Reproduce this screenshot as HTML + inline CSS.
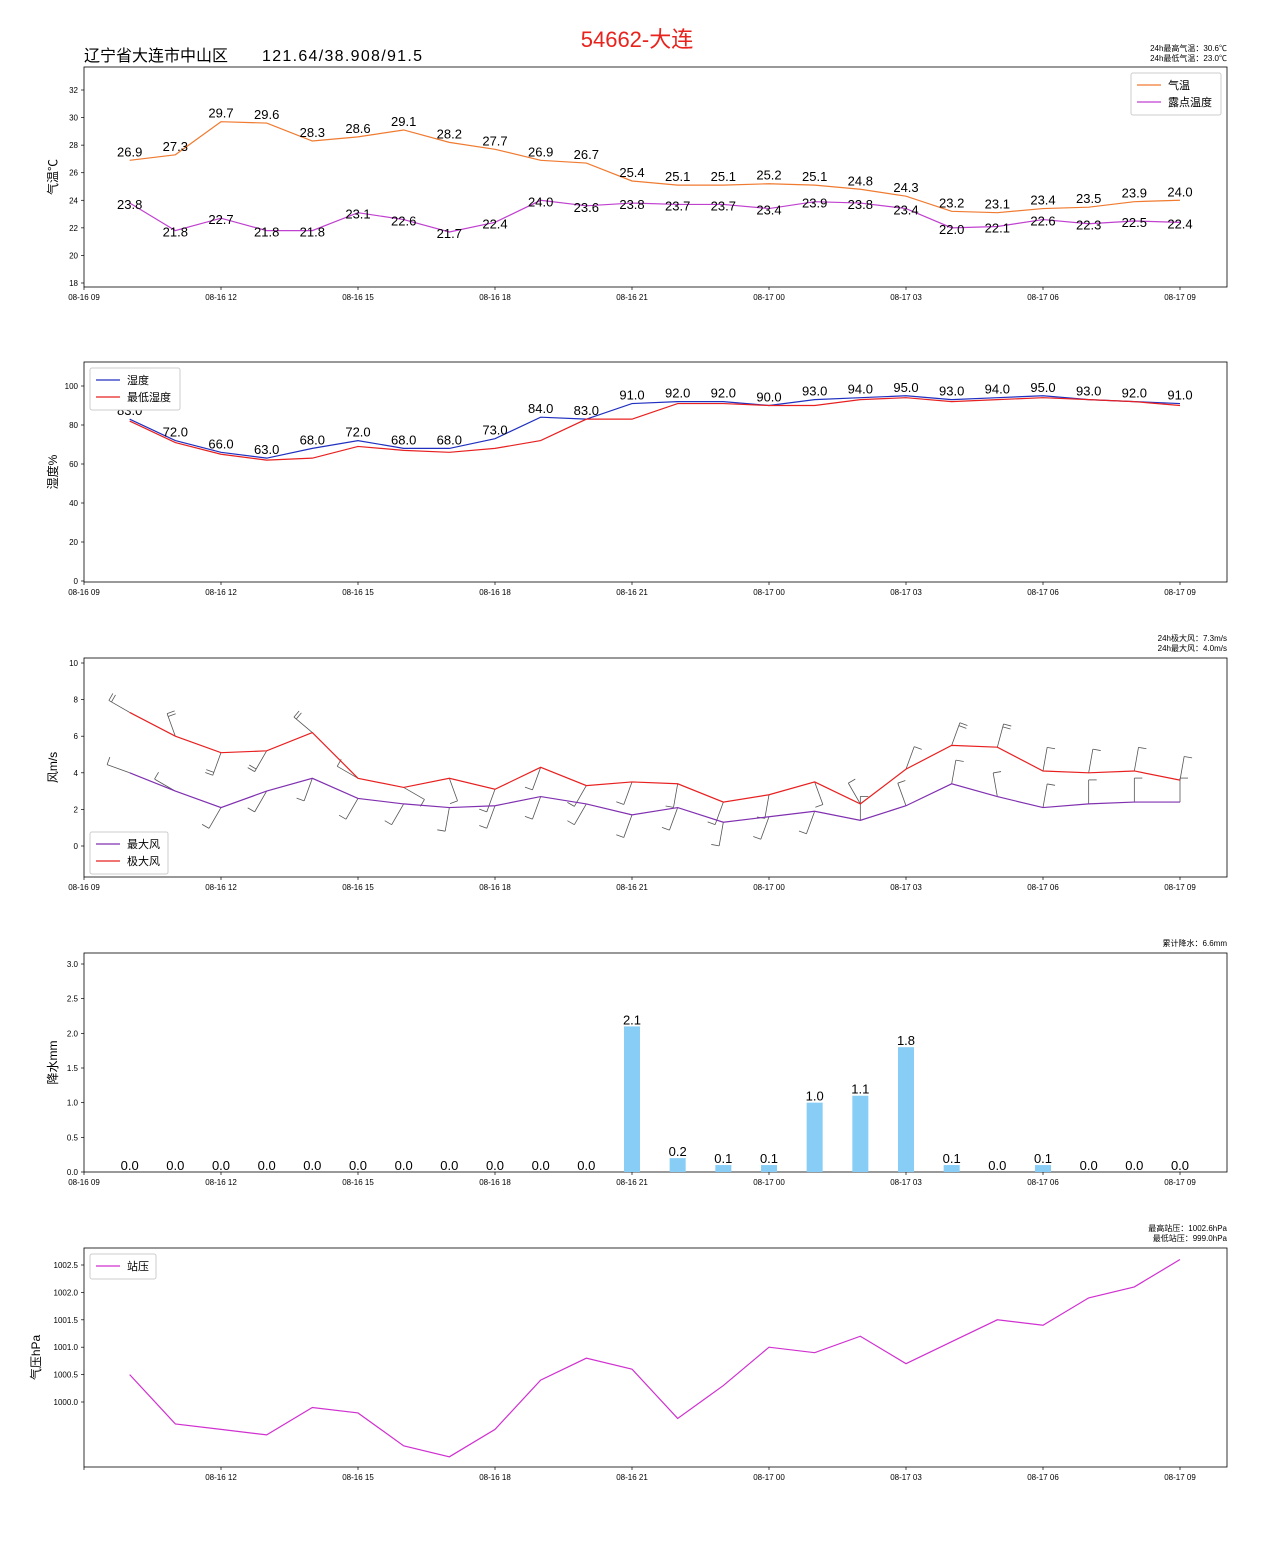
<!DOCTYPE html>
<html><head><meta charset="utf-8">
<style>
body{margin:0;background:#fff;}
svg text{font-family:"Liberation Sans","Noto Sans CJK SC",sans-serif;}
</style></head>
<body>
<svg id="chart" width="1275" height="1559" xmlns="http://www.w3.org/2000/svg">
<rect width="1275" height="1559" fill="#fff"/>
<text x="637" y="47" font-size="22" fill="#e8221c" text-anchor="middle">54662-大连</text>
<text x="84" y="61" font-size="16" fill="#000">辽宁省大连市中山区</text>
<text x="262" y="61" font-size="16" fill="#000" textLength="160">121.64/38.908/91.5</text>
</svg>
<script>
const hours=['10','11','12','13','14','15','16','17','18','19','20','21','22','23','00','01','02','03','04','05','06','07','08','09'];
const tickLabels=['08-16 09','08-16 12','08-16 15','08-16 18','08-16 21','08-17 00','08-17 03','08-17 06','08-17 09'];
const temp=[26.9,27.3,29.7,29.6,28.3,28.6,29.1,28.2,27.7,26.9,26.7,25.4,25.1,25.1,25.2,25.1,24.8,24.3,23.2,23.1,23.4,23.5,23.9,24.0];
const dew=[23.8,21.8,22.7,21.8,21.8,23.1,22.6,21.7,22.4,24.0,23.6,23.8,23.7,23.7,23.4,23.9,23.8,23.4,22.0,22.1,22.6,22.3,22.5,22.4];
const hum=[83,72,66,63,68,72,68,68,73,84,83,91,92,92,90,93,94,95,93,94,95,93,92,91];
const humMin=[82,71,65,62,63,69,67,66,68,72,83,83,91,91,90,90,93,94,92,93,94,93,92,90];
const gust=[7.3,6.0,5.1,5.2,6.2,3.7,3.2,3.7,3.1,4.3,3.3,3.5,3.4,2.4,2.8,3.5,2.3,4.2,5.5,5.4,4.1,4.0,4.1,3.6];
const wind=[4.0,3.0,2.1,3.0,3.7,2.6,2.3,2.1,2.2,2.7,2.3,1.7,2.1,1.3,1.6,1.9,1.4,2.2,3.4,2.7,2.1,2.3,2.4,2.4];
const gustDir=[300,340,200,210,310,300,120,160,200,200,210,200,190,200,190,160,330,20,20,15,10,10,10,10];
const windDir=[290,300,210,210,200,210,210,190,200,200,210,200,200,190,200,200,0,340,10,350,10,0,0,0];
const rain=[0,0,0,0,0,0,0,0,0,0,0,2.1,0.2,0.1,0.1,1.0,1.1,1.8,0.1,0.0,0.1,0.0,0.0,0.0];
const pres=[1000.5,999.6,999.5,999.4,999.9,999.8,999.2,999.0,999.5,1000.4,1000.8,1000.6,999.7,1000.3,1001.0,1000.9,1001.2,1000.7,1001.1,1001.5,1001.4,1001.9,1002.1,1002.6];

const svg=document.getElementById('chart');
const NS='http://www.w3.org/2000/svg';
function el(t,a,p){const e=document.createElementNS(NS,t);for(const k in a)e.setAttribute(k,a[k]);(p||svg).appendChild(e);return e;}
const X0=84,X1=1227,PX=137/3;
function xs(i){return X0+(i+1)*PX;}
function panel(name,top,bot,ymin,ymax,yPix0,yPix1,ticks,fmt,ylabel,showFirst,labX){
  const g=el('g',{});
  
  
  const ys=v=>yPix0+(v-ymin)*(yPix1-yPix0)/(ymax-ymin);
  el('rect',{x:X0,y:top,width:X1-X0,height:bot-top,fill:'none',stroke:'#000','stroke-width':0.8},g);
  ticks.forEach(t=>{const y=ys(t);el('line',{x1:X0-3,x2:X0,y1:y,y2:y,stroke:'#000','stroke-width':0.7},g);
    const tx=el('text',{x:X0-6,y:y+3,'font-size':8,'text-anchor':'end'},g);tx.textContent=fmt(t);
    
    });
  tickLabels.forEach((l,k)=>{const x=X0+k*137;el('line',{x1:x,x2:x,y1:bot,y2:bot+3,stroke:'#000','stroke-width':0.7},g);
    if(k===0&&!showFirst)return;
    const tx=el('text',{x:x,y:bot+13,'font-size':8,'text-anchor':'middle'},g);tx.textContent=l;
    
    });
  const yl=el('text',{x:0,y:0,'font-size':12,'text-anchor':'middle',transform:`translate(${labX||57},${(top+bot)/2}) rotate(-90)`},g);
  yl.textContent=ylabel;
  
  
  return {g,ys};
}
function line(g,data,ys,color,name){
  const p=el('polyline',{points:data.map((v,i)=>xs(i)+','+ys(v)).join(' '),fill:'none',stroke:color,'stroke-width':1.2},g);
  
  
}
function labels(g,data,ys,dy,fmt){
  data.forEach((v,i)=>{const t=el('text',{x:xs(i),y:ys(v)+dy,'font-size':13,'text-anchor':'middle'},g);t.textContent=fmt(v);
    
    });
}
function legend(g,x,y,w,items){
  const lg=el('g',{},g);
  
  
  el('rect',{x:x,y:y,width:w,height:items.length*17+8,fill:'#fff',stroke:'#ccc',rx:2},lg);
  items.forEach((it,k)=>{const yy=y+12+k*17;
    el('line',{x1:x+6,x2:x+30,y1:yy,y2:yy,stroke:it[1],'stroke-width':1.3},lg);
    const t=el('text',{x:x+37,y:yy+4,'font-size':11},lg);t.textContent=it[0];
    
    });
}
function note(g,x,y,txt){const t=el('text',{x:x,y:y,'font-size':8,'text-anchor':'end'},g);t.textContent=txt;
  
  }

let P=panel('temperature-panel',67,287,18,32,283,90,[18,20,22,24,26,28,30,32],v=>v,'气温℃',true);
line(P.g,temp,P.ys,'#f07a30','temp-line');
line(P.g,dew,P.ys,'#c040d0','dew-line');
labels(P.g,temp,P.ys,-4,v=>v.toFixed(1));
labels(P.g,dew,P.ys,6,v=>v.toFixed(1));
legend(P.g,1131,73,90,[['气温','#f07a30'],['露点温度','#c040d0']]);
note(P.g,1227,51,'24h最高气温：30.6℃');note(P.g,1227,61,'24h最低气温：23.0℃');

P=panel('humidity-panel',362,582,0,100,581,386,[0,20,40,60,80,100],v=>v,'湿度%',true);
line(P.g,hum,P.ys,'#2030c0','humidity-line');
line(P.g,humMin,P.ys,'#e82020','min-humidity-line');
labels(P.g,hum,P.ys,-4,v=>v.toFixed(1));
legend(P.g,90,368,90,[['湿度','#2030c0'],['最低湿度','#e82020']]);

P=panel('wind-panel',658,877,0,10,846,663,[0,2,4,6,8,10],v=>v,'风m/s',true);
function barb(g,i,v,d,ys){
  const x=xs(i),y=ys(v),r=d*Math.PI/180,L=24;
  const ex=x+Math.sin(r)*L, ey=y-Math.cos(r)*L;
  const b=el('g',{},g);
  
  
  el('line',{x1:x,y1:y,x2:ex,y2:ey,stroke:'#555','stroke-width':0.8},b);
  const fx=ex+Math.cos(r)*8, fy=ey+Math.sin(r)*8;
  el('line',{x1:ex,y1:ey,x2:fx,y2:fy,stroke:'#555','stroke-width':0.8},b);
  if(v>=5){const mx=x+Math.sin(r)*(L-3),my=y-Math.cos(r)*(L-3);
    el('line',{x1:mx,y1:my,x2:mx+Math.cos(r)*8,y2:my+Math.sin(r)*8,stroke:'#555','stroke-width':0.8},b);}
}
gust.forEach((v,i)=>barb(P.g,i,v,gustDir[i],P.ys));
wind.forEach((v,i)=>barb(P.g,i,v,windDir[i],P.ys));
line(P.g,gust,P.ys,'#e82020','gust-line');
line(P.g,wind,P.ys,'#8030b0','max-wind-line');
legend(P.g,90,832,78,[['最大风','#8030b0'],['极大风','#e82020']]);
note(P.g,1227,641,'24h极大风：7.3m/s');note(P.g,1227,651,'24h最大风：4.0m/s');

P=panel('precip-panel',953,1172,0,3,1172,964,[0,0.5,1,1.5,2,2.5,3],v=>v.toFixed(1),'降水mm',true);
rain.forEach((v,i)=>{const y=P.ys(v);
  const r=el('rect',{x:xs(i)-8,y:y,width:16,height:1172-y,fill:'#87cdf5'},P.g);
  
  });
labels(P.g,rain,P.ys,-2,v=>v.toFixed(1));
note(P.g,1227,946,'累计降水：6.6mm');

P=panel('pressure-panel',1248,1467,1000,1002.5,1402,1265,[1000,1000.5,1001,1001.5,1002,1002.5],v=>v.toFixed(1),'气压hPa',false,40);
line(P.g,pres,P.ys,'#d030d0','pressure-line');
legend(P.g,90,1254,66,[['站压','#d030d0']]);
note(P.g,1227,1231,'最高站压：1002.6hPa');note(P.g,1227,1241,'最低站压：999.0hPa');
</script>
</body></html>
